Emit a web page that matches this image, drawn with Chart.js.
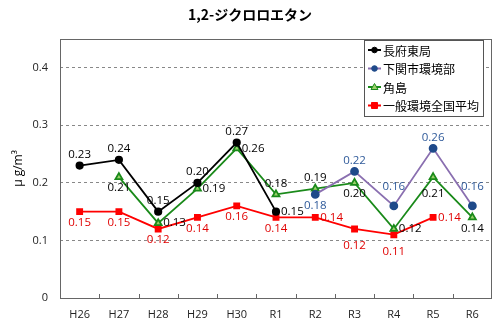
<!DOCTYPE html>
<html>
<head>
<meta charset="utf-8">
<script src="https://cdn.jsdelivr.net/npm/chart.js@4.4.1/dist/chart.umd.min.js"></script>
<style>
  html, body { margin: 0; padding: 0; background: #fff; }
  #wrap { width: 500px; height: 326px; }
</style>
</head>
<body>
<div id="wrap"><canvas id="chart"></canvas></div>
<script>
const years = ["H26", "H27", "H28", "H29", "H30", "R1", "R2", "R3", "R4", "R5", "R6"];
const nagafu = [0.23, 0.24, 0.15, 0.20, 0.27, 0.15, null, null, null, null, null];
const shimonoseki = [null, null, null, null, null, null, 0.18, 0.22, 0.16, 0.26, 0.16];
const tsunoshima = [null, 0.21, 0.13, 0.19, 0.26, 0.18, 0.19, 0.20, 0.12, 0.21, 0.14];
const national = [0.15, 0.15, 0.12, 0.14, 0.16, 0.14, 0.14, 0.12, 0.11, 0.14, null];
const yTicks = [0, 0.1, 0.2, 0.3, 0.4];

// where each value label sits relative to its point
const nagafuAt = ["up", "up", "up", "up", "up", "right"];
const shimonosekiAt = [, , , , , , "down", "up", "upfar", "up", "upfar"];
const tsunoshimaAt = [, "down", "right", "right", "right", "up", "up", "down", "right", "downfar", "down"];
const nationalAt = ["down", "down", "down", "down", "down", "down", "right", "downfar", "downfar", "right"];

const numFont = "'Open Sans', 'Noto Sans', sans-serif";
const jpFont = "'Noto Sans CJK JP', sans-serif";

const pointLabels = {
  id: "pointLabels",
  afterDatasetsDraw(chart) {
    const ctx = chart.ctx;
    ctx.save();
    ctx.font = "11.5px " + numFont;
    chart.data.datasets.forEach((ds, i) => {
      const meta = chart.getDatasetMeta(i);
      meta.data.forEach((pt, j) => {
        const v = ds.data[j];
        if (v == null) return;
        const at = ds.labelAt[j];
        let x = pt.x, y = pt.y;
        ctx.textAlign = "center";
        ctx.textBaseline = "middle";
        if (at === "up") y -= 11;
        else if (at === "upfar") y -= 19;
        else if (at === "down") y += 11;
        else if (at === "downfar") y += 17;
        else if (at === "right") { x += 5; ctx.textAlign = "left"; }
        ctx.fillStyle = ds.labelColor;
        ctx.fillText(v.toFixed(2), x, y);
      });
    });
    ctx.restore();
  }
};

const frame = {
  id: "frame",
  beforeDatasetsDraw(chart) {
    const { ctx, chartArea: a, scales } = chart;
    ctx.save();
    ctx.strokeStyle = "#666";
    ctx.lineWidth = 1;
    ctx.strokeRect(a.left + 0.5, a.top + 0.5, a.right - a.left - 1, a.bottom - a.top);
    // small inner tick marks between the years
    const xs = scales.x;
    ctx.beginPath();
    for (let i = 0; i < years.length - 1; i++) {
      const bx = Math.round((xs.getPixelForValue(i) + xs.getPixelForValue(i + 1)) / 2) + 0.5;
      ctx.moveTo(bx, a.bottom);
      ctx.lineTo(bx, a.bottom - 4);
    }
    ctx.stroke();
    ctx.restore();
  },
  afterDraw(chart) {
    const ctx = chart.ctx;
    ctx.save();
    // title
    ctx.fillStyle = "#000";
    ctx.font = "bold 14px " + jpFont;
    ctx.textAlign = "center";
    ctx.textBaseline = "middle";
    ctx.fillText("1,2-ジクロロエタン", 250, 15);

    // legend box
    const lx = 364, ly = 40, lw = 119, lh = 76;
    ctx.fillStyle = "#fff";
    ctx.fillRect(lx, ly, lw, lh);
    ctx.strokeStyle = "#555";
    ctx.strokeRect(lx + 0.5, ly + 0.5, lw, lh);
    ctx.font = "12px " + jpFont;
    ctx.textAlign = "left";
    chart.data.datasets.forEach((ds, i) => {
      const y = ly + 10 + i * 18.5;
      ctx.strokeStyle = ds.borderColor;
      ctx.lineWidth = 2;
      ctx.beginPath();
      ctx.moveTo(lx + 4, y);
      ctx.lineTo(lx + 17, y);
      ctx.stroke();
      ctx.lineWidth = 1;
      ctx.fillStyle = ds.pointBackgroundColor;
      ctx.strokeStyle = ds.pointBorderColor;
      const cx = lx + 10.5;
      ctx.beginPath();
      if (ds.pointStyle === "rect") ctx.rect(cx - 3, y - 3, 6, 6);
      else if (ds.pointStyle === "triangle") { ctx.moveTo(cx, y - 3.5); ctx.lineTo(cx + 3.5, y + 2.5); ctx.lineTo(cx - 3.5, y + 2.5); ctx.closePath(); }
      else ctx.arc(cx, y, 2.8, 0, Math.PI * 2);
      ctx.fill();
      ctx.stroke();
      ctx.fillStyle = "#000";
      ctx.fillText(ds.label, lx + 19, y + 1);
    });
    ctx.restore();
  }
};

new Chart(document.getElementById("chart"), {
  type: "line",
  data: {
    labels: years,
    datasets: [
      {
        label: "長府東局",
        data: nagafu,
        labelAt: nagafuAt,
        labelColor: "#000",
        borderColor: "#000",
        borderWidth: 1.8,
        pointStyle: "circle",
        pointRadius: 3.2,
        pointBackgroundColor: "#000",
        pointBorderColor: "#000"
      },
      {
        label: "下関市環境部",
        data: shimonoseki,
        labelAt: shimonosekiAt,
        labelColor: "#2f5a9a",
        borderColor: "#8a6fb0",
        borderWidth: 1.8,
        pointStyle: "circle",
        pointRadius: 3.5,
        pointBackgroundColor: "#1f4a8a",
        pointBorderColor: "#1f4a8a"
      },
      {
        label: "角島",
        data: tsunoshima,
        labelAt: tsunoshimaAt,
        labelColor: "#000",
        borderColor: "#1a8a1a",
        borderWidth: 1.8,
        pointStyle: "triangle",
        pointRadius: 4,
        pointBackgroundColor: "#9bd06a",
        pointBorderColor: "#1a8a1a"
      },
      {
        label: "一般環境全国平均",
        data: national,
        labelAt: nationalAt,
        labelColor: "#e00000",
        borderColor: "#ff0000",
        borderWidth: 1.8,
        pointStyle: "rect",
        pointRadius: 3.6,
        pointBackgroundColor: "#ff0000",
        pointBorderColor: "#ff0000"
      }
    ]
  },
  options: {
    responsive: true,
    maintainAspectRatio: false,
    animation: false,
    spanGaps: false,
    layout: { padding: { top: 39, right: 8, left: 0, bottom: 0 } },
    plugins: {
      legend: { display: false },
      tooltip: { enabled: false }
    },
    scales: {
      x: {
        offset: true,
        grid: { display: false, drawTicks: false },
        border: { display: false },
        ticks: { color: "#222", font: { family: numFont, size: 11 }, padding: 10, maxRotation: 0 },
        afterFit: (s) => { s.height = 28; }
      },
      y: {
        min: 0,
        max: 0.45,
        afterBuildTicks: (s) => { s.ticks = yTicks.map((v) => ({ value: v })); },
        grid: {
          drawTicks: false,
          color: (c) => (c.tick && c.tick.value === 0 ? "rgba(0,0,0,0)" : "#888"),
          lineWidth: 1
        },
        border: { display: false, dash: [3, 3] },
        ticks: {
          color: "#222",
          font: { family: numFont, size: 11 },
          padding: 12,
          callback: (v) => (v === 0 ? "0" : v.toFixed(1))
        },
        title: {
          display: true,
          text: "μ g/m³",
          color: "#000",
          font: { family: numFont, size: 12 },
          padding: { top: 11, bottom: 0 }
        },
        afterFit: (s) => { s.width = 60; }
      }
    }
  },
  plugins: [frame, pointLabels]
});
</script>
</body>
</html>
